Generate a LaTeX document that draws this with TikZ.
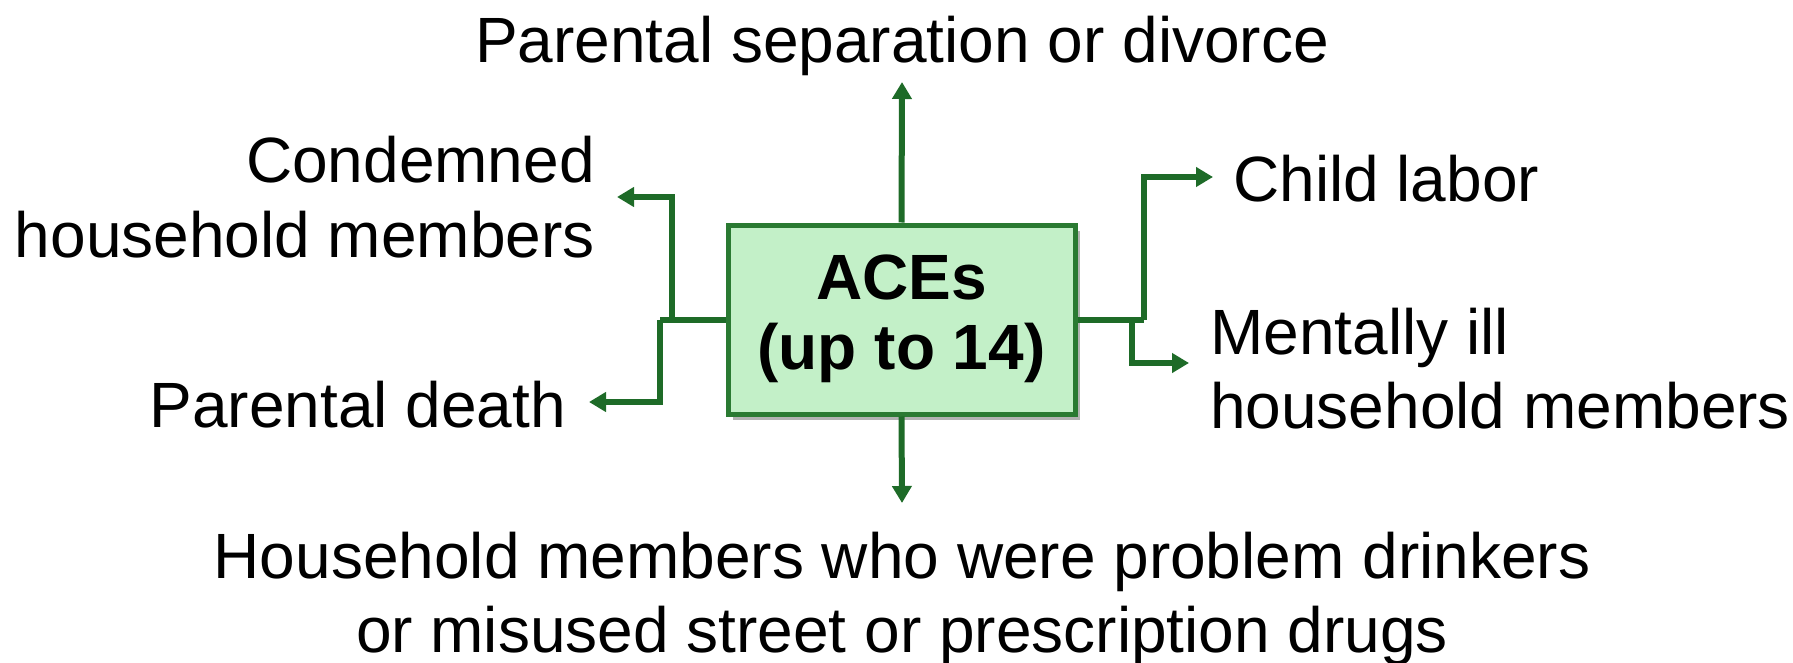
\documentclass[tikz,border=0pt]{standalone}
\usepackage{fontspec}
\setmainfont{Liberation Sans}
\usetikzlibrary{arrows.meta,shadows}
\definecolor{lineg}{HTML}{1E6B28}
\definecolor{boxline}{HTML}{2A7A32}
\definecolor{boxfill}{HTML}{C3F0C8}
\begin{document}
\begin{tikzpicture}[x=1pt,y=-1pt,
  conn/.style={draw=lineg, line width=6pt, -{Triangle[length=17pt,width=19pt]}},
  plain/.style={draw=lineg, line width=6pt},
  lbl/.style={inner sep=0pt, font=\fontsize{64}{74}\selectfont},
  acebox/.style={draw=boxline, line width=5pt, fill=boxfill, minimum width=347pt, minimum height=189pt,
     align=center, font=\fontsize{64}{74}\selectfont\bfseries,
     drop shadow={shadow xshift=5pt, shadow yshift=-6pt, opacity=0.3, fill=black}}]
\useasboundingbox (0,0) rectangle (1793,663);
\node[acebox] (ace) at (901.5,319.5) {\raisebox{-6pt}{\begin{tabular}{@{}c@{}}ACEs\\[-4pt](up to 14)\end{tabular}}};
\node[lbl, anchor=base] (sep) at (902,63) {Parental separation or divorce};
\node[lbl, anchor=base east, align=right] (cond) at (595,257) {Condemned\\household members};
\node[lbl, anchor=base east] (death) at (566,427) {Parental death};
\node[lbl, anchor=base west] (child) at (1233,202) {Child labor};
\node[lbl, anchor=base west, align=left] (ment) at (1210,428) {Mentally ill\\household members};
\node[lbl, anchor=base, align=center] (drink) at (902,652) {Household members who were problem drinkers\\or misused street or prescription drugs};
% free ends and junctions
\coordinate (upT) at (902,82);
\coordinate (dnT) at (902,503);
\coordinate (jL) at (672,319.5);
\coordinate (jL2) at (660,319.5);
\coordinate (condT) at (617,197);
\coordinate (deathT) at (589,402);
\coordinate (jR) at (1144,319.5);
\coordinate (jR2) at (1132,319.5);
\coordinate (childT) at (1213,177);
\coordinate (mentT) at (1189,363);
\draw[conn] (ace.north) -- (upT);
\draw[conn] (ace.south) -- (dnT);
\draw[plain] (ace.west) -- (jL2);
\draw[conn] (jL) |- (condT);
\draw[conn] (jL2) |- (deathT);
\draw[plain] (ace.east) -- (jR);
\draw[conn] (jR) |- (childT);
\draw[conn] (jR2) |- (mentT);
\end{tikzpicture}
\end{document}
